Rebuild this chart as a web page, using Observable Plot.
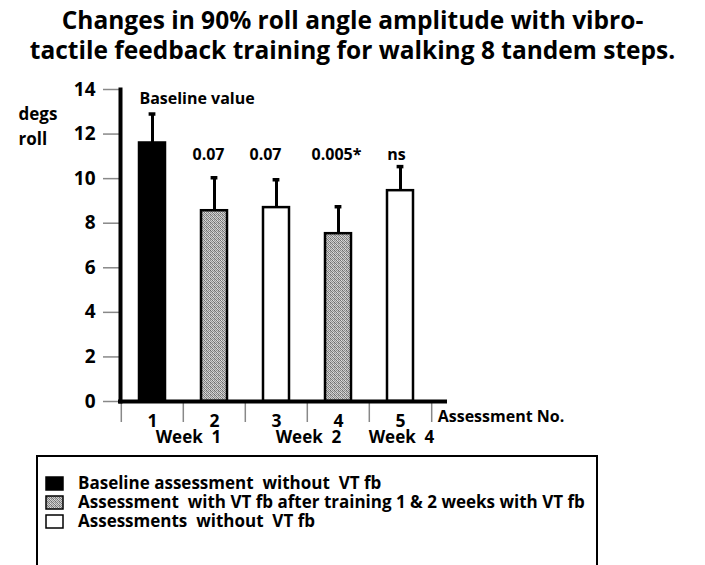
<!DOCTYPE html>
<html><head><meta charset="utf-8">
<script src="https://cdn.jsdelivr.net/npm/d3@7"></script>
<script src="https://cdn.jsdelivr.net/npm/@observablehq/plot@0.6"></script>
<style>
html,body{margin:0;padding:0;background:#fff;}
body{width:705px;height:565px;overflow:hidden;font-family:"Open Sans",Lato,sans-serif;color:#000;position:relative;}
#title{box-sizing:border-box;height:72px;padding-top:5px;text-align:center;font-weight:bold;font-size:24.5px;line-height:30px;white-space:nowrap;}
#chart svg{display:block;}
#legend{position:absolute;left:36px;top:455px;width:558px;height:130px;border:2px solid #000;}
#legend .row{position:absolute;left:7px;height:16px;display:flex;align-items:center;white-space:nowrap;}
#legend .row svg{display:block;margin-right:14px;}
#legend .row span{font-weight:bold;font-size:17px;line-height:16px;}
</style></head><body>
<div id="title">Changes in 90% roll angle amplitude with vibro-<br>tactile feedback training for walking 8 tandem steps.</div>
<div id="chart"></div>
<div id="legend"></div>
<script>
// ---- data ----
const assessments = [1, 2, 3, 4, 5];
const meanRoll = [11.6, 8.56, 8.7, 7.53, 9.46];
const upperRoll = [12.9, 10.04, 9.95, 8.74, 10.54];
const condition = ["baseline", "vtfb", "novtfb", "vtfb", "novtfb"];
const annotations = ["Baseline value", "0.07", "0.07", "0.005*", "ns"];
const weekLabels = ["Week\u00a0 1", "Week\u00a0 2", "Week\u00a0 4"];
const weekAt = [2, 4, 5];
const yTicks = [0, 2, 4, 6, 8, 10, 12, 14];
const legendConditions = ["baseline", "vtfb", "novtfb"];
const legendLabels = [
  "Baseline assessment\u00a0 without\u00a0 VT fb",
  "Assessment\u00a0 with VT fb after training 1 & 2 weeks with VT fb",
  "Assessments\u00a0 without\u00a0 VT fb"
];
const yLabel = "degs\nroll";
const xLabel = "Assessment No.";

// ---- styles / layout ----
const fills = {baseline: "#000", vtfb: "url(#stipple)", novtfb: "#fff"};
const weekDx = [-26, -30, 1];
const noteDx = [0, -6, -11, -2, -4];
const W = 705, H = 378, mL = 120, mR = 273, mT = 17, mB = 49;
const pad = 0.58;
const step = (W - mL - mR) / assessments.length;
const bw = step * (1 - pad);

const rows = assessments.map((a, i) => ({a, mean: meanRoll[i], upper: upperRoll[i], cond: condition[i], note: annotations[i], dx: noteDx[i]}));
const weeks = weekLabels.map((t, i) => ({t, a: weekAt[i], dx: weekDx[i]}));

const plot = Plot.plot({
  width: W, height: H,
  marginLeft: mL, marginRight: mR, marginTop: mT, marginBottom: mB,
  style: {fontFamily: "'Open Sans', Lato, sans-serif", fontWeight: "bold", color: "#000", background: "#fff", overflow: "visible"},
  x: {domain: assessments, paddingInner: pad, paddingOuter: pad / 2, align: 0.5},
  y: {domain: [0, 14]},
  color: {type: "identity"},
  marks: [
    Plot.axisY({ticks: yTicks, tickSize: 17, tickPadding: 8, stroke: "#888", strokeWidth: 1.5, fill: "#000", fontSize: 19, label: null}),
    Plot.axisX({tickSize: 0, tickPadding: 13, fontSize: 17.5, label: null}),
    Plot.axisX({tickSize: 21, stroke: "#888", strokeWidth: 1.5, tickFormat: () => "", dx: -step / 2, label: null}),
    Plot.axisX({ticks: [assessments[assessments.length - 1]], tickSize: 21, stroke: "#888", strokeWidth: 1.5, tickFormat: () => "", dx: step / 2, label: null}),
    Plot.barY(rows, {x: "a", y: "mean", fill: d => fills[d.cond], stroke: "#000", strokeWidth: 2.5}),
    Plot.ruleX(rows, {x: "a", y1: "mean", y2: "upper", stroke: "#000", strokeWidth: 3}),
    Plot.tickY(rows, {x: "a", y: "upper", stroke: "#000", strokeWidth: 3.5, inset: (bw - 7) / 2}),
    Plot.ruleY([0], {stroke: "#000", strokeWidth: 4, insetLeft: -2, insetRight: -15}),
    Plot.frame({anchor: "left", stroke: "#000", strokeWidth: 4}),
    Plot.text(rows.slice(0, 1), {x: "a", y: 13.57, text: "note", textAnchor: "start", dx: -bw / 2, fontSize: 16}),
    ...rows.slice(1).map(r => Plot.text([r], {x: "a", y: 11.08, text: "note", dx: r.dx, fontSize: 16})),
    ...weeks.map(w => Plot.text([w], {x: "a", text: "t", frameAnchor: "bottom", dy: 41.5, dx: w.dx, fontSize: 17})),
    Plot.text([xLabel], {x: assessments[assessments.length - 1], text: d => d, frameAnchor: "bottom", dy: 20, dx: step / 2 + 6, textAnchor: "start", fontSize: 16}),
    Plot.text([yLabel], {text: d => d, frameAnchor: "top-left", dx: -102, dy: 12, lineAnchor: "top", textAnchor: "start", fontSize: 17, lineHeight: 1.5})
  ]
});

plot.insertAdjacentHTML("afterbegin",
  `<defs><pattern id="stipple" width="4" height="4" patternUnits="userSpaceOnUse">
    <rect width="4" height="4" fill="#cfcfcf"/>
    <rect x="0" y="0" width="1" height="1" fill="#707070"/>
    <rect x="2" y="0" width="1" height="1" fill="#8c8c8c"/>
    <rect x="1" y="1" width="1" height="1" fill="#7c7c7c"/>
    <rect x="3" y="1" width="1" height="1" fill="#969696"/>
    <rect x="0" y="2" width="1" height="1" fill="#888888"/>
    <rect x="2" y="2" width="1" height="1" fill="#6c6c6c"/>
    <rect x="1" y="3" width="1" height="1" fill="#949494"/>
    <rect x="3" y="3" width="1" height="1" fill="#7a7a7a"/>
    <rect x="1" y="0" width="1" height="1" fill="#e2e2e2"/>
    <rect x="2" y="3" width="1" height="1" fill="#b4b4b4"/>
  </pattern></defs>`);
document.getElementById("chart").appendChild(plot);

// legend
const legend = document.getElementById("legend");
legendConditions.forEach((c, i) => {
  const row = document.createElement("div");
  row.className = "row";
  row.style.top = (18 + 19 * i) + "px";
  row.innerHTML = `<svg width="19" height="15"><rect x="1" y="1" width="17" height="13" fill="${fills[c]}" stroke="#000" stroke-width="1.5"/></svg><span>${legendLabels[i]}</span>`;
  legend.appendChild(row);
});
</script>
</body></html>
